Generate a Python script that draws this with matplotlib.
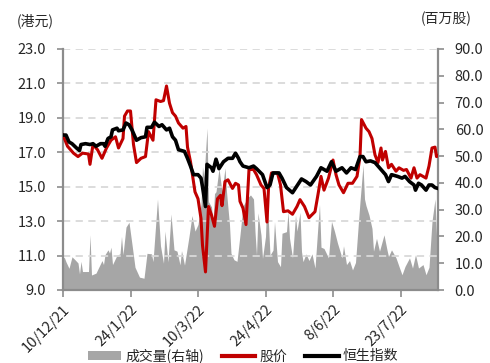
import matplotlib
matplotlib.use("Agg")
import matplotlib.pyplot as plt
import numpy as np
import pandas as pd
from matplotlib.ticker import FormatStrFormatter
from matplotlib.patches import Patch
from matplotlib.lines import Line2D

plt.rcParams['font.family'] = ['Noto Sans CJK SC', 'DejaVu Sans']

# 股价 (港元)
price_dates = [
    "2021-12-10", "2021-12-13", "2021-12-17", "2021-12-20", "2021-12-23", "2021-12-27",
    "2021-12-28", "2021-12-30", "2022-01-02", "2022-01-05", "2022-01-08", "2022-01-11",
    "2022-01-14", "2022-01-16", "2022-01-19", "2022-01-20", "2022-01-22", "2022-01-24",
    "2022-01-26", "2022-01-28", "2022-01-31", "2022-02-03", "2022-02-05", "2022-02-08",
    "2022-02-10", "2022-02-13", "2022-02-15", "2022-02-17", "2022-02-19", "2022-02-21",
    "2022-02-23", "2022-02-25", "2022-02-28", "2022-03-02", "2022-03-03", "2022-03-05",
    "2022-03-08", "2022-03-10", "2022-03-12", "2022-03-13", "2022-03-15", "2022-03-17",
    "2022-03-19", "2022-03-21", "2022-03-23", "2022-03-25", "2022-03-26", "2022-03-28",
    "2022-03-30", "2022-04-02", "2022-04-04", "2022-04-06", "2022-04-07", "2022-04-09",
    "2022-04-11", "2022-04-13", "2022-04-16", "2022-04-18", "2022-04-21", "2022-04-23",
    "2022-04-25", "2022-04-26", "2022-04-28", "2022-05-02", "2022-05-04", "2022-05-06",
    "2022-05-09", "2022-05-12", "2022-05-15", "2022-05-17", "2022-05-20", "2022-05-23",
    "2022-05-27", "2022-05-29", "2022-05-31", "2022-06-02", "2022-06-05", "2022-06-08",
    "2022-06-10", "2022-06-12", "2022-06-15", "2022-06-18", "2022-06-21", "2022-06-24",
    "2022-06-26", "2022-06-27", "2022-06-30", "2022-07-02", "2022-07-04", "2022-07-06",
    "2022-07-08", "2022-07-10", "2022-07-11", "2022-07-13", "2022-07-15", "2022-07-17",
    "2022-07-20", "2022-07-22", "2022-07-25", "2022-07-27", "2022-07-30", "2022-08-01",
    "2022-08-03", "2022-08-05", "2022-08-09", "2022-08-11", "2022-08-13", "2022-08-15",
    "2022-08-16", "2022-08-17",
]
price = [
    18.0, 17.35, 16.95, 16.75, 16.95, 16.9,
    16.3, 17.45, 17.15, 16.65, 17.25, 17.7,
    17.9, 17.25, 17.8, 19.1, 19.4, 19.4,
    17.45, 16.4, 16.65, 16.75, 18.2, 17.7,
    20.05, 19.95, 20.0, 20.85, 19.85, 19.3,
    19.1, 18.7, 18.4, 18.5, 17.3, 16.45,
    14.7, 14.3, 13.15, 11.6, 10.05, 13.85,
    13.35, 12.7, 14.3, 14.5, 13.9, 15.3,
    15.4, 14.9, 15.2, 15.1, 14.15, 13.75,
    12.8, 16.0, 16.0, 15.7, 15.1, 14.9,
    12.95, 14.9, 15.8, 15.8, 15.1, 13.55,
    13.6, 13.4, 13.85, 14.25, 13.85, 13.2,
    13.55, 14.55, 15.6, 14.8, 15.5, 16.55,
    15.7, 15.1, 14.65, 15.2, 15.2, 15.6,
    16.75, 18.9, 18.4, 18.2, 17.8, 16.85,
    16.4, 17.25, 16.55, 17.05, 16.1, 16.3,
    15.9, 16.1, 15.95, 16.0, 15.5, 16.1,
    15.5, 15.7, 15.5, 16.2, 17.25, 17.3,
    16.75, 16.8,
]

# 恒生指数 (按股价起点重新定基)
hsi_dates = [
    "2021-12-10", "2021-12-12", "2021-12-14", "2021-12-16", "2021-12-19", "2021-12-21",
    "2021-12-22", "2021-12-25", "2021-12-28", "2021-12-30", "2022-01-01", "2022-01-04",
    "2022-01-06", "2022-01-07", "2022-01-09", "2022-01-11", "2022-01-12", "2022-01-15",
    "2022-01-16", "2022-01-19", "2022-01-21", "2022-01-23", "2022-01-25", "2022-01-28",
    "2022-01-31", "2022-02-03", "2022-02-04", "2022-02-07", "2022-02-09", "2022-02-12",
    "2022-02-14", "2022-02-17", "2022-02-19", "2022-02-21", "2022-02-23", "2022-02-25",
    "2022-03-01", "2022-03-03", "2022-03-05", "2022-03-07", "2022-03-10", "2022-03-12",
    "2022-03-13", "2022-03-15", "2022-03-16", "2022-03-19", "2022-03-20", "2022-03-22",
    "2022-03-24", "2022-03-27", "2022-03-30", "2022-04-02", "2022-04-04", "2022-04-06",
    "2022-04-07", "2022-04-09", "2022-04-13", "2022-04-16", "2022-04-18", "2022-04-22",
    "2022-04-25", "2022-04-27", "2022-04-29", "2022-05-03", "2022-05-05", "2022-05-08",
    "2022-05-12", "2022-05-15", "2022-05-18", "2022-05-21", "2022-05-24", "2022-05-28",
    "2022-05-31", "2022-06-04", "2022-06-07", "2022-06-10", "2022-06-14", "2022-06-17",
    "2022-06-20", "2022-06-23", "2022-06-26", "2022-06-28", "2022-06-30", "2022-07-03",
    "2022-07-06", "2022-07-10", "2022-07-13", "2022-07-15", "2022-07-17", "2022-07-21",
    "2022-07-24", "2022-07-26", "2022-07-29", "2022-08-01", "2022-08-02", "2022-08-04",
    "2022-08-06", "2022-08-09", "2022-08-11", "2022-08-13", "2022-08-15", "2022-08-17",
]
hsi = [
    18.0, 18.0, 17.6, 17.5, 17.25, 17.1,
    17.45, 17.5, 17.45, 17.5, 17.35, 17.5,
    17.5, 17.35, 17.8, 17.9, 18.3, 18.4,
    18.25, 18.3, 18.7, 18.6, 18.3, 17.7,
    17.85, 17.9, 18.45, 18.45, 18.75, 18.5,
    18.6, 18.3, 18.4, 17.9, 17.7, 17.15,
    17.05, 16.65, 16.2, 15.7, 15.7, 15.5,
    15.0, 13.85, 16.3, 16.1, 15.9, 16.6,
    16.05, 16.45, 16.65, 16.65, 16.95, 16.65,
    16.45, 16.2, 16.1, 16.2, 16.05, 15.7,
    14.95, 15.1, 15.8, 15.8, 15.5, 14.95,
    14.65, 15.05, 15.45, 15.3, 15.1, 15.6,
    16.1, 15.9, 16.45, 15.9, 16.1, 15.8,
    16.1, 16.0, 16.75, 16.75, 16.45, 16.5,
    16.4, 16.0, 15.7, 15.3, 15.7, 15.6,
    15.5, 15.6, 15.3, 15.1, 14.8, 15.2,
    15.1, 14.8, 15.1, 15.1, 14.95, 14.9,
]

# 成交量 (百万股)
vol_dates = [
    "2021-12-10", "2021-12-11", "2021-12-12", "2021-12-14", "2021-12-16", "2021-12-18",
    "2021-12-20", "2021-12-21", "2021-12-22", "2021-12-23", "2021-12-27", "2021-12-28",
    "2021-12-29", "2022-01-01", "2022-01-02", "2022-01-05", "2022-01-06", "2022-01-07",
    "2022-01-09", "2022-01-10", "2022-01-11", "2022-01-12", "2022-01-15", "2022-01-17",
    "2022-01-18", "2022-01-19", "2022-01-21", "2022-01-23", "2022-01-25", "2022-01-27",
    "2022-01-30", "2022-02-02", "2022-02-04", "2022-02-07", "2022-02-08", "2022-02-11",
    "2022-02-13", "2022-02-15", "2022-02-16", "2022-02-18", "2022-02-20", "2022-02-22",
    "2022-02-24", "2022-02-26", "2022-02-27", "2022-03-01", "2022-03-04", "2022-03-06",
    "2022-03-08", "2022-03-10", "2022-03-12", "2022-03-13", "2022-03-14", "2022-03-16",
    "2022-03-17", "2022-03-19", "2022-03-20", "2022-03-21", "2022-03-22", "2022-03-24",
    "2022-03-26", "2022-03-28", "2022-03-29", "2022-03-30", "2022-03-31", "2022-04-01",
    "2022-04-03", "2022-04-05", "2022-04-07", "2022-04-09", "2022-04-12", "2022-04-14",
    "2022-04-16", "2022-04-17", "2022-04-18", "2022-04-19", "2022-04-21", "2022-04-22",
    "2022-04-24", "2022-04-25", "2022-04-27", "2022-04-29", "2022-04-30", "2022-05-02",
    "2022-05-04", "2022-05-05", "2022-05-08", "2022-05-09", "2022-05-10", "2022-05-12",
    "2022-05-14", "2022-05-15", "2022-05-17", "2022-05-18", "2022-05-19", "2022-05-21",
    "2022-05-23", "2022-05-25", "2022-05-27", "2022-05-29", "2022-05-30", "2022-05-31",
    "2022-06-02", "2022-06-05", "2022-06-07", "2022-06-09", "2022-06-11", "2022-06-14",
    "2022-06-15", "2022-06-17", "2022-06-19", "2022-06-21", "2022-06-23", "2022-06-25",
    "2022-06-26", "2022-06-28", "2022-06-29", "2022-06-30", "2022-07-02", "2022-07-04",
    "2022-07-05", "2022-07-07", "2022-07-09", "2022-07-12", "2022-07-14", "2022-07-15",
    "2022-07-17", "2022-07-20", "2022-07-22", "2022-07-24", "2022-07-26", "2022-07-29",
    "2022-07-31", "2022-08-02", "2022-08-04", "2022-08-07", "2022-08-09", "2022-08-11",
    "2022-08-13", "2022-08-15", "2022-08-17",
]
volume = [
    12.4, 12.0, 10.5, 8.1, 12.4, 11.3,
    10.1, 6.0, 10.7, 6.9, 6.9, 20.6,
    5.6, 6.3, 7.5, 11.0, 9.5, 13.2,
    15.0, 13.8, 16.0, 9.5, 13.0, 13.5,
    20.0, 13.2, 23.5, 25.3, 17.0, 8.5,
    4.8, 4.4, 13.7, 13.5, 10.6, 34.0,
    16.5, 10.0, 22.0, 10.5, 28.4, 15.0,
    14.5, 9.4, 14.7, 9.3, 20.0, 27.8,
    22.0, 24.5, 32.0, 46.0, 42.0, 60.5,
    33.0, 31.0, 25.5, 36.0, 36.7, 45.4,
    36.7, 45.6, 36.8, 30.5, 24.4, 13.7,
    11.3, 10.7, 20.6, 31.3, 34.4, 35.5,
    34.0, 21.8, 13.1, 28.8, 20.5, 11.8,
    20.0, 36.5, 13.0, 14.9, 25.5, 10.6,
    8.7, 21.2, 21.8, 29.3, 19.4, 12.0,
    28.0, 22.0, 29.0, 14.4, 10.6, 13.5,
    11.0, 13.5, 8.2, 24.4, 32.0, 16.0,
    15.5, 12.0, 25.6, 21.9, 17.5, 12.0,
    16.5, 9.5, 11.0, 7.5, 10.3, 25.6,
    33.0, 46.7, 34.0, 31.5, 28.0, 23.0,
    14.5, 19.3, 14.5, 20.6, 15.0, 12.5,
    15.0, 12.0, 8.8, 5.7, 8.8, 12.0,
    8.2, 13.2, 8.2, 9.5, 5.7, 8.5,
    25.6, 34.0, 7.0,
]

tick_dates = ["2021-12-10", "2022-01-24", "2022-03-10", "2022-04-24", "2022-06-08", "2022-07-23"]
tick_labels = ["10/12/21", "24/1/22", "10/3/22", "24/4/22", "8/6/22", "23/7/22"]
left_ticks = [9, 11, 13, 15, 17, 19, 21, 23]
right_ticks = [0, 10, 20, 30, 40, 50, 60, 70, 80, 90]

RED = "#C00000"
GREY_FILL = "#A6A6A6"
AXIS_GREY = "#8C8C8C"
TEXT = "#262626"

fig = plt.figure(figsize=(4.9, 3.63), dpi=100)
ax = fig.add_axes([63 / 490, 1 - 290 / 363, (438 - 63) / 490, (290 - 49) / 363])
axv = ax.twinx()
ax.set_zorder(axv.get_zorder() + 1)
ax.patch.set_visible(False)

# volume area on the right axis
vd = pd.to_datetime(vol_dates)
axv.fill_between(vd, 0, volume, color=GREY_FILL, lw=0)

# price and index lines on the left axis
ax.plot(pd.to_datetime(price_dates), price, color=RED, lw=2.2, solid_joinstyle="round", zorder=3)
ax.plot(pd.to_datetime(hsi_dates), hsi, color="black", lw=2.6, solid_joinstyle="round", zorder=4)

start = pd.Timestamp("2021-12-10")
ax.set_xlim(start, start + pd.Timedelta(days=250))
ax.set_ylim(9, 23)
axv.set_ylim(0, 90)

ax.set_yticks(left_ticks)
axv.set_yticks(right_ticks)
ax.yaxis.set_major_formatter(FormatStrFormatter("%.1f"))
axv.yaxis.set_major_formatter(FormatStrFormatter("%.1f"))
ax.set_xticks(pd.to_datetime(tick_dates))
ax.set_xticklabels(tick_labels, rotation=45, ha="right", rotation_mode="anchor")

ax.set_axisbelow(True)
ax.yaxis.grid(True, color="#D9D9D9", linestyle=(0, (4, 3)), lw=1.3)
ax.xaxis.grid(False)

for s in ["top", "right"]:
    ax.spines[s].set_visible(False)
for s in ["top", "left", "bottom"]:
    axv.spines[s].set_visible(False)
for s in ["left", "bottom"]:
    ax.spines[s].set_color(AXIS_GREY)
    ax.spines[s].set_linewidth(1.6)
axv.spines["right"].set_color(AXIS_GREY)
axv.spines["right"].set_linewidth(1.6)

ax.tick_params(axis="y", direction="out", length=4, width=1.2, color=AXIS_GREY,
               labelsize=10.5, labelcolor=TEXT, pad=8)
axv.tick_params(axis="y", direction="out", length=4, width=1.2, color=AXIS_GREY,
                labelsize=10.5, labelcolor=TEXT, pad=8)
ax.tick_params(axis="x", direction="out", length=5, width=1.2, color=AXIS_GREY,
               labelsize=10.5, labelcolor=TEXT, pad=4)

fig.text(35 / 490, 1 - 21 / 363, "(港元)", ha="center", va="center", fontsize=10, color=TEXT)
fig.text(446 / 490, 1 - 19 / 363, "(百万股)", ha="center", va="center", fontsize=10, color=TEXT)

handles = [
    Patch(facecolor=GREY_FILL, edgecolor="none"),
    Line2D([], [], color=RED, lw=3),
    Line2D([], [], color="black", lw=3),
]
labels = ["成交量(右轴)", "股价", "恒生指数"]
fig.legend(handles, labels, loc="center", bbox_to_anchor=(243 / 490, 1 - 356 / 363),
           ncol=3, frameon=False, fontsize=10, handlelength=2.4, handleheight=0.7,
           handletextpad=0.3, columnspacing=1.3, labelcolor=TEXT)

fig.savefig("out.png", dpi=100)
